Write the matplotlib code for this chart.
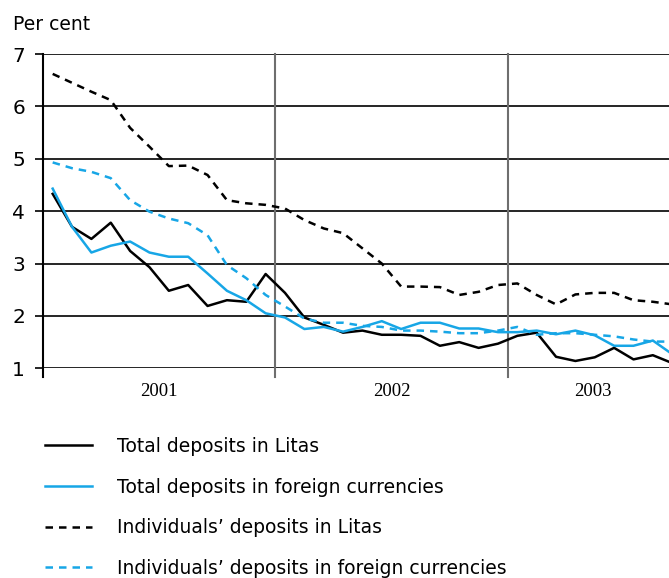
import matplotlib
matplotlib.use("Agg")
import matplotlib.pyplot as plt
import numpy as np

# monthly values, Jan 2001 .. Sep 2003 (last one is cut off by the frame)
total_litas = [4.33, 3.70, 3.47, 3.78, 3.24, 2.93, 2.48, 2.59, 2.19, 2.30, 2.27, 2.80,
               2.44, 1.97, 1.83, 1.68, 1.72, 1.64, 1.64, 1.62, 1.43, 1.50, 1.39, 1.47,
               1.62, 1.68, 1.22, 1.14, 1.21, 1.39, 1.17, 1.25, 1.10]
total_foreign = [4.43, 3.70, 3.21, 3.34, 3.42, 3.21, 3.13, 3.13, 2.81, 2.48, 2.30, 2.05,
                 1.97, 1.75, 1.79, 1.70, 1.79, 1.90, 1.75, 1.87, 1.87, 1.76, 1.76, 1.69,
                 1.69, 1.72, 1.65, 1.72, 1.63, 1.43, 1.43, 1.53, 1.27]
indiv_litas = [6.62, 6.45, 6.28, 6.12, 5.59, 5.23, 4.86, 4.87, 4.69, 4.21, 4.15, 4.12,
               4.05, 3.83, 3.67, 3.58, 3.29, 3.00, 2.56, 2.56, 2.55, 2.40, 2.46, 2.59,
               2.62, 2.40, 2.22, 2.41, 2.44, 2.44, 2.30, 2.27, 2.22]
indiv_foreign = [4.93, 4.82, 4.75, 4.63, 4.21, 3.99, 3.86, 3.77, 3.54, 2.97, 2.72, 2.40,
                 2.18, 1.95, 1.87, 1.87, 1.81, 1.79, 1.72, 1.72, 1.70, 1.67, 1.67, 1.72,
                 1.79, 1.64, 1.67, 1.67, 1.64, 1.61, 1.55, 1.51, 1.51]
years = ["2001", "2002", "2003"]
labels = ["Total deposits in Litas", "Total deposits in foreign currencies",
          "Individuals\u2019 deposits in Litas", "Individuals\u2019 deposits in foreign currencies"]

blue = "#17a6e6"
x = np.arange(len(total_litas)) + 0.5

fig = plt.figure(figsize=(6.69, 5.78), dpi=100)
ax = fig.add_axes([43 / 669, 209.7 / 578, 626 / 669, 314.3 / 578])

dash = (0, (3.0, 2.4))
ax.plot(x, total_litas, color="black", lw=1.8, label=labels[0])
ax.plot(x, total_foreign, color=blue, lw=1.8, label=labels[1])
ax.plot(x, indiv_litas, color="black", lw=1.8, ls=dash, label=labels[2])
ax.plot(x, indiv_foreign, color=blue, lw=1.8, ls=dash, label=labels[3])

ax.set_xlim(0, 626 / 19.36)
ax.set_ylim(1, 7)
ax.set_yticks(range(1, 8))
for v in range(1, 8):
    ax.axhline(v, color="black", lw=1.2, zorder=0)
for b in (12, 24):
    ax.axvline(b, ymin=-0.028, ymax=1, color="#6e6e6e", lw=1.5, clip_on=False, zorder=0)
ax.axvline(0, ymin=-0.028, ymax=1, color="black", lw=1.5, clip_on=False)

for s in ax.spines.values():
    s.set_visible(False)
ax.set_xticks([])
ax.tick_params(axis="y", direction="out", length=6, width=1.2, pad=7, labelsize=14.5)

for i, yr in enumerate(years):
    xc = 12 * i + 6 if i < 2 else 28.4
    ax.text(xc, -0.075, yr, transform=ax.get_xaxis_transform(), ha="center", va="center",
            fontsize=13.5, family="Liberation Serif")

fig.text(13 / 669, 1 - 25 / 578, "Per cent", fontsize=13.5, va="center", ha="left")

fig.legend(loc="upper left", bbox_to_anchor=(45 / 669, 1 - 437 / 578), frameon=False,
           fontsize=13.5, handlelength=2.5, handletextpad=1.33, labelspacing=1.15,
           borderpad=0, borderaxespad=0)

fig.savefig("out.png", dpi=100)
